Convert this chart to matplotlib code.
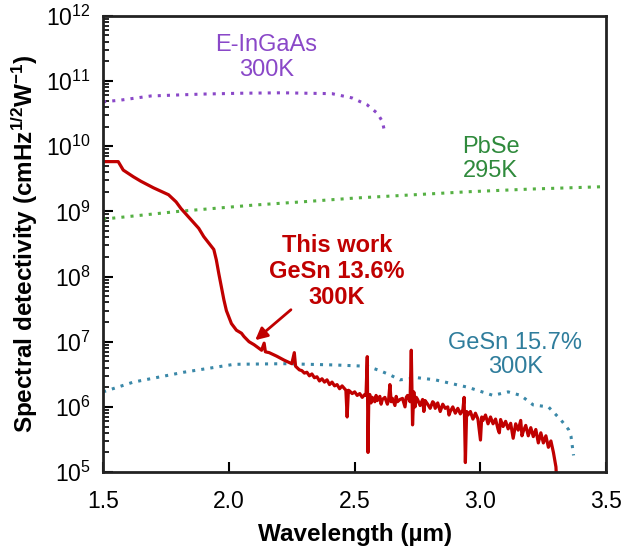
import numpy as np
import matplotlib
matplotlib.use('Agg')
import matplotlib.pyplot as plt
from matplotlib.ticker import LogLocator, NullFormatter

plt.rcParams['font.family'] = ['Liberation Sans', 'DejaVu Sans']
plt.rcParams['mathtext.fontset'] = 'custom'
plt.rcParams['mathtext.rm'] = 'Liberation Sans'
plt.rcParams['mathtext.bf'] = 'Liberation Sans:bold'
plt.rcParams['mathtext.it'] = 'Liberation Sans:italic'

# E-InGaAs 300K
ingaas_wl = [1.50, 1.57, 1.69, 1.89, 2.05, 2.21, 2.41, 2.49, 2.55, 2.59, 2.61, 2.62]
ingaas_d = [4.8e10, 5.1e10, 5.9e10, 6.3e10, 6.5e10, 6.6e10, 6.4e10, 5.5e10, 4.3e10, 3.2e10, 2.4e10, 1.6e10]

# PbSe 295K
pbse_wl = [1.50, 1.80, 2.10, 2.29, 2.50, 2.95, 3.20, 3.50]
pbse_d = [7.6e8, 1.0e9, 1.25e9, 1.4e9, 1.6e9, 2.0e9, 2.2e9, 2.4e9]

# GeSn 15.7% 300K
gesn157_wl = [1.50, 1.62, 1.82, 2.02, 2.22, 2.42, 2.55, 2.60, 2.64, 2.68, 2.75, 2.82,
              2.95, 3.05, 3.11, 3.16, 3.21, 3.27, 3.32, 3.35, 3.36, 3.37]
gesn157_d = [1.7e6, 2.4e6, 3.4e6, 4.5e6, 4.6e6, 4.4e6, 4.2e6, 3.6e6, 3.1e6, 2.6e6, 2.8e6, 2.6e6,
             2.0e6, 1.5e6, 1.7e6, 1.5e6, 1.07e6, 1.0e6, 6.3e5, 4.5e5, 3.5e5, 1.8e5]

# This work, GeSn 13.6% 300K
gesn136_wl = [1.50, 1.56, 1.58, 1.62, 1.65, 1.70, 1.76, 1.79, 1.81, 1.85, 1.88, 1.90,
              1.94, 1.95, 1.96, 1.97, 1.98, 1.99, 2.01, 2.03, 2.05, 2.06, 2.08, 2.10, 2.13,
              2.14, 2.145, 2.16, 2.19, 2.22, 2.25, 2.26, 2.265, 2.28,
              2.29, 2.30, 2.31, 2.32, 2.33, 2.34, 2.35, 2.36, 2.37, 2.38, 2.39, 2.40,
              2.41, 2.42, 2.43, 2.44, 2.45, 2.46, 2.465, 2.47, 2.475, 2.48, 2.49, 2.50,
              2.51, 2.52, 2.53, 2.54, 2.545, 2.55, 2.553, 2.556, 2.56, 2.565, 2.57, 2.58, 2.585, 2.59,
              2.60, 2.605, 2.61, 2.62, 2.63, 2.635, 2.64, 2.645, 2.65, 2.66, 2.665, 2.67, 2.68, 2.69, 2.70,
              2.705, 2.71, 2.72, 2.725, 2.73, 2.735, 2.74, 2.745, 2.75, 2.76, 2.77, 2.775, 2.78, 2.79, 2.80,
              2.81, 2.815, 2.82, 2.83, 2.84, 2.85, 2.86, 2.87, 2.875, 2.88, 2.89, 2.90, 2.91, 2.92,
              2.93, 2.935, 2.94, 2.945, 2.95, 2.96, 2.97, 2.98, 2.99, 3.00, 3.005, 3.01,
              3.02, 3.03, 3.04, 3.05, 3.06, 3.07, 3.075, 3.08, 3.09, 3.10, 3.11, 3.12, 3.13,
              3.14, 3.15, 3.16, 3.165, 3.17, 3.18, 3.19, 3.20, 3.21, 3.22, 3.23, 3.24, 3.25,
              3.26, 3.27, 3.28, 3.29, 3.30, 3.305]
gesn136_d = [5.8e9, 5.8e9, 4.3e9, 3.4e9, 2.9e9, 2.3e9, 1.8e9, 1.4e9, 1.1e9, 7.4e8, 5.5e8, 4.1e8,
             2.6e8, 1.8e8, 1.1e8, 7e7, 4.4e7, 3.0e7, 1.9e7, 1.5e7, 1.35e7, 1.2e7, 1.0e7, 9e6, 7.4e6,
             9.5e6, 7.0e6, 6.8e6, 6.0e6, 5.2e6, 4.6e6, 6.8e6, 4.2e6, 3.7e6,
             3.6e6, 3.3e6, 3.4e6, 3.0e6, 3.2e6, 2.8e6, 2.9e6, 2.5e6, 2.7e6, 2.4e6, 2.6e6, 2.2e6,
             2.4e6, 2.1e6, 2.2e6, 1.9e6, 2.1e6, 1.9e6, 1.8e6, 7.0e5, 1.8e6, 1.75e6, 1.6e6, 1.7e6,
             1.5e6, 1.6e6, 1.4e6, 1.55e6, 1.5e6, 5.9e6, 2.0e5, 1.3e6, 1.55e6, 1.15e6, 1.4e6, 1.2e6, 1.5e6, 1.25e6,
             1.45e6, 1.1e6, 1.3e6, 1.4e6, 1.1e6, 1.3e6, 2.2e6, 1.2e6, 1.35e6, 1.05e6, 1.45e6, 1.2e6, 1.3e6, 1.35e6, 1.0e6,
             1.4e6, 1.5e6, 1.2e6, 7.4e6, 5.3e5, 1.7e6, 1.0e6, 1.4e6, 1.3e6, 1.05e6, 1.3e6, 8.5e5, 1.25e6, 1.1e6, 9.5e5,
             1.2e6, 1.15e6, 9.5e5, 1.15e6, 8.5e5, 1.1e6, 9.5e5, 1.0e6, 7.5e5, 8.5e5, 1.0e6, 8.0e5, 9.5e5, 7.8e5,
             9.0e5, 1.4e6, 1.4e5, 8.5e5, 7.5e5, 8.5e5, 6.5e5, 8.0e5, 6.5e5, 3.1e5, 7.0e5, 6.2e5,
             7.5e5, 5.5e5, 7.0e5, 5.5e5, 6.5e5, 4.5e5, 4.0e5, 6.4e5, 5.0e5, 6.0e5, 4.6e5, 5.6e5, 3.3e5,
             5.5e5, 4.4e5, 6.2e5, 3.6e5, 4.2e5, 5.2e5, 3.6e5, 4.8e5, 3.5e5, 4.5e5, 2.8e5, 4.0e5, 2.8e5,
             3.6e5, 2.4e5, 3.0e5, 2.0e5, 1.2e5, 5e4]

fig = plt.figure(figsize=(6.25, 5.47), dpi=100)
ax = fig.add_axes([0.165, 0.137, 0.805, 0.834])

dot = (0, (1, 2))
ax.plot(ingaas_wl, ingaas_d, color='#8A48C8', lw=2.2, linestyle=dot)
ax.plot(pbse_wl, pbse_d, color='#55B043', lw=2.2, linestyle=dot)
ax.plot(gesn157_wl, gesn157_d, color='#3A88A8', lw=2.2, linestyle=dot)
ax.plot(gesn136_wl, gesn136_d, color='#C00000', lw=2.3)

ax.set_yscale('log')
ax.set_xlim(1.5, 3.5)
ax.set_ylim(1e5, 1e12)
ax.set_xticks([1.5, 2.0, 2.5, 3.0, 3.5])
ax.set_xticklabels(['1.5', '2.0', '2.5', '3.0', '3.5'])
ax.yaxis.set_major_locator(LogLocator(base=10, numticks=20))
ax.yaxis.set_minor_locator(LogLocator(base=10, subs=np.arange(2, 10), numticks=100))
ax.yaxis.set_minor_formatter(NullFormatter())
ax.tick_params(axis='both', which='major', direction='in', length=7, width=1.5,
               labelsize=16.5, colors='black')
ax.tick_params(axis='x', which='major', pad=13)
ax.tick_params(axis='y', which='major', pad=9)
ax.tick_params(axis='y', which='minor', direction='in', length=4, width=1.2)
ax.tick_params(axis='x', which='minor', length=0)
for sp in ax.spines.values():
    sp.set_linewidth(2)
    sp.set_color('#222222')

ax.set_xlabel('Wavelength (µm)', fontsize=17.5, fontweight='bold', labelpad=7)
ax.set_ylabel('Spectral detectivity (cmHz$^{\\mathbf{1/2}}$W$^{\\mathbf{-1}}$)',
              fontsize=17.5, fontweight='bold', labelpad=4)

ax.text(2.148, 2.3e11, 'E-InGaAs\n300K', color='#8A48C8', fontsize=17,
        ha='center', va='center', linespacing=1.15)
ax.text(3.04, 6.4e9, 'PbSe\n295K', color='#2F8A3C', fontsize=17,
        ha='center', va='center', linespacing=1.15)
ax.text(2.43, 1.2e8, 'This work\nGeSn 13.6%\n300K', color='#C00000', fontsize=17,
        fontweight='bold', ha='center', va='center', linespacing=1.15)
ax.text(3.138, 6.25e6, 'GeSn 15.7%\n300K', color='#2F7D9C', fontsize=17,
        ha='center', va='center', linespacing=1.15)
ax.annotate('', xy=(2.096, 9.9e6), xytext=(2.255, 3.3e7),
            arrowprops=dict(arrowstyle='-|>', color='#C00000', lw=2, mutation_scale=18))

fig.savefig('out.png', dpi=100)
